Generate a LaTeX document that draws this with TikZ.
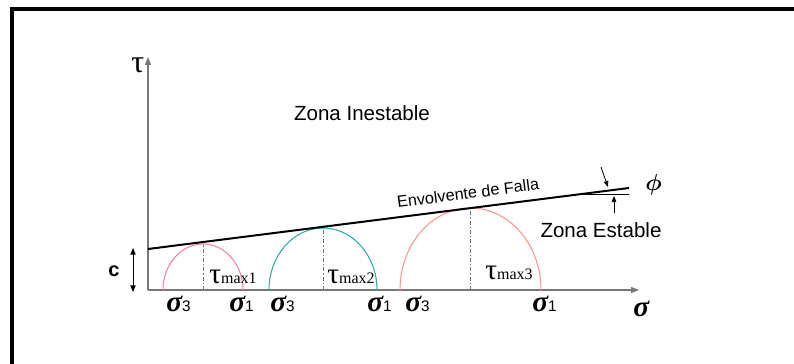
\documentclass[tikz,border=0pt]{standalone}
\usepackage{fontspec}
\setmainfont{Liberation Sans}
\newfontfamily\grk{Liberation Serif}
\usepackage{bm}
\usetikzlibrary{arrows.meta}

\definecolor{axisgray}{RGB}{120,120,120}
\definecolor{mohrpink}{RGB}{240,130,170}
\definecolor{mohrteal}{RGB}{50,170,170}
\definecolor{mohrred}{RGB}{250,150,150}

\tikzset{
  axis/.style={draw=axisgray,line width=0.9pt,-{Triangle[length=6pt,width=4.5pt]}},
  mohr/.style={line width=0.8pt},
  centre/.style={draw=axisgray,line width=0.7pt,dash pattern=on 3pt off 1.5pt on 1pt off 1.5pt},
  pointer/.style={draw=black,line width=0.6pt,-{Triangle[length=4.5pt,width=3.5pt]}},
  lbl/.style={inner sep=0pt,anchor=base west},
}

\newcommand{\sig}[1]{{\grk\fontsize{22}{22}\selectfont\bfseries\itshape σ}{\fontsize{11.5}{11.5}\selectfont #1}}
\newcommand{\tmax}[1]{{\grk\fontsize{22}{22}\selectfont τ{\fontsize{12}{12}\selectfont max#1}}}

\begin{document}
\begin{tikzpicture}[x=0.75pt,y=-0.75pt]
\useasboundingbox (0,0) rectangle (794,364);

% marco
\draw[line width=2.6pt] (12,364) -- (12,9) -- (794,9);

% ejes
\coordinate (O) at (148,290);
\coordinate (tautip) at (148,57);
\coordinate (sigtip) at (639,290);
\draw[axis] (O) -- (tautip);
\draw[axis] (O) -- (sigtip);

% cohesion
\coordinate (ctop) at (133,248);
\coordinate (cbot) at (133,292);
\draw[black,line width=0.7pt,{Triangle[length=5pt,width=4pt]}-{Triangle[length=5pt,width=4pt]}] (ctop) -- (cbot);
\node[font=\fontsize{15}{15}\selectfont\bfseries] (c) at (114,271) {c};

% circulos de Mohr
\draw[mohr,mohrpink] (163,290) arc[start angle=180,end angle=360,x radius=40,y radius=46];
\draw[mohr,mohrteal] (269,290) arc[start angle=180,end angle=360,x radius=54,y radius=62];
\draw[mohr,mohrred]  (400,290) arc[start angle=180,end angle=360,x radius=70.5,y radius=82];

\coordinate (c1) at (203,290);   \coordinate (t1) at (203,244);
\coordinate (c2) at (323,290);   \coordinate (t2) at (323,228);
\coordinate (c3) at (470.5,290); \coordinate (t3) at (470.5,208);
\draw[centre] (c1) -- (t1);
\draw[centre] (c2) -- (t2);
\draw[centre] (c3) -- (t3);

% envolvente
\coordinate (e0) at (148,249);
\coordinate (e1) at (629,188);
\coordinate (h0) at (582,194);
\coordinate (h1) at (629,194);
\draw[black,line width=1.5pt] (e0) -- (e1);
\draw[black,line width=0.7pt] (h0) -- (h1);

\coordinate (p0) at (601,167); \coordinate (p1) at (608,187);
\coordinate (q0) at (614,213); \coordinate (q1) at (614,196);
\draw[pointer] (p0) -- (p1);
\draw[pointer] (q0) -- (q1);

% textos
\node[font=\fontsize{15.4}{15.4}\selectfont] (zi) at (362,113) {Zona Inestable};
\node[font=\fontsize{15.4}{15.4}\selectfont] (ze) at (601,230) {Zona Estable};
\node[font=\fontsize{12.2}{12.2}\selectfont,rotate=7.2] (env) at (468,193) {Envolvente de Falla};

\begin{scope}[every node/.style=lbl]
  \node (tau) at (131,72) {\grk\fontsize{24}{24}\selectfont τ};
  \node (sig) at (633,316) {\grk\fontsize{22}{22}\selectfont\bfseries\itshape σ};
  \node (phi) at (645,190) {\fontsize{16}{16}\selectfont$\bm{\phi}$};
  \node (s3a) at (166,311) {\sig{3}};
  \node (s1a) at (229,311) {\sig{1}};
  \node (s3b) at (270,311) {\sig{3}};
  \node (s1b) at (367,311) {\sig{1}};
  \node (s3c) at (405,311) {\sig{3}};
  \node (s1c) at (532,311) {\sig{1}};
  \node (tm1) at (209,283) {\tmax{1}};
  \node (tm2) at (327,283) {\tmax{2}};
  \node (tm3) at (485,279) {\tmax{3}};
\end{scope}

\end{tikzpicture}
\end{document}
